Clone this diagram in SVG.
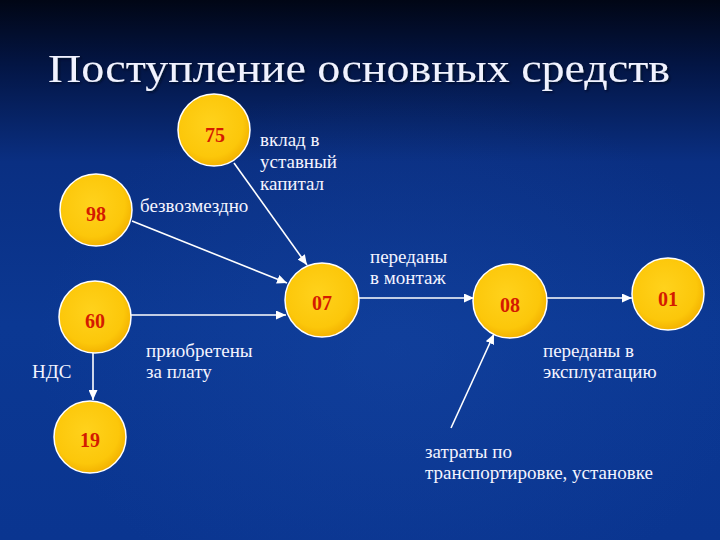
<svg xmlns="http://www.w3.org/2000/svg" width="720" height="540" viewBox="0 0 720 540">
<defs>
<linearGradient id="bg" x1="0" y1="0" x2="0" y2="1">
<stop offset="0" stop-color="#010615"/>
<stop offset="0.12" stop-color="#031544"/>
<stop offset="0.3" stop-color="#0a2f82"/>
<stop offset="0.6" stop-color="#0b3893"/>
<stop offset="1" stop-color="#0a3590"/>
</linearGradient>
<radialGradient id="glow" cx="0.55" cy="0.65" r="0.5">
<stop offset="0" stop-color="#1a4aa8" stop-opacity="0.35"/>
<stop offset="1" stop-color="#1a4aa8" stop-opacity="0"/>
</radialGradient>
<radialGradient id="ball" cx="0.45" cy="0.42" r="0.6">
<stop offset="0" stop-color="#ffd21c"/>
<stop offset="0.75" stop-color="#fcc70a"/>
<stop offset="1" stop-color="#f2b000"/>
</radialGradient>
<marker id="arr" markerUnits="userSpaceOnUse" markerWidth="10" markerHeight="9" refX="10" refY="4.5" orient="auto">
<path d="M0,0 L10,4.5 L0,9 z" fill="#ffffff"/>
</marker>
<filter id="sh" x="-5%" y="-20%" width="110%" height="140%">
<feDropShadow dx="1.5" dy="1.5" stdDeviation="0.8" flood-color="#000820" flood-opacity="0.8"/>
</filter>
</defs>
<style>
.node circle{fill:url(#ball);stroke:#ffffff;stroke-width:1.5}
.num{font-size:20px;font-weight:bold;fill:#d41a00;text-anchor:middle}
.lbl{font-size:19px;fill:#f4f4ff}
.title{font-size:41px;fill:#f0f2ff}
#connectors line{stroke:#ffffff;stroke-width:1.6;marker-end:url(#arr)}
</style>
<rect width="720" height="540" fill="url(#bg)"/>
<rect width="720" height="540" fill="url(#glow)"/>
<text class="title" font-family="'Liberation Serif', 'DejaVu Serif', serif" x="48" y="82" textLength="622" lengthAdjust="spacingAndGlyphs" filter="url(#sh)">Поступление основных средств</text>
<g id="connectors">
<line x1="234" y1="163" x2="307" y2="265"/>
<line x1="132" y1="221" x2="287" y2="283"/>
<line x1="131" y1="315" x2="286" y2="315"/>
<line x1="359" y1="298" x2="474" y2="298"/>
<line x1="547" y1="298" x2="632" y2="298"/>
<line x1="93" y1="353" x2="93" y2="400"/>
<line x1="451" y1="428" x2="494" y2="334"/>
</g>
<g id="node-75" class="node"><circle cx="214" cy="130" r="36"/><text class="num" font-family="'Liberation Serif', 'DejaVu Serif', serif" x="215" y="142">75</text></g>
<g id="node-98" class="node"><circle cx="96" cy="210" r="36"/><text class="num" font-family="'Liberation Serif', 'DejaVu Serif', serif" x="96" y="221">98</text></g>
<g id="node-07" class="node"><circle cx="322" cy="300" r="37"/><text class="num" font-family="'Liberation Serif', 'DejaVu Serif', serif" x="322" y="310">07</text></g>
<g id="node-08" class="node"><circle cx="510" cy="301" r="37"/><text class="num" font-family="'Liberation Serif', 'DejaVu Serif', serif" x="510" y="312">08</text></g>
<g id="node-01" class="node"><circle cx="668" cy="294" r="36"/><text class="num" font-family="'Liberation Serif', 'DejaVu Serif', serif" x="668" y="306">01</text></g>
<g id="node-60" class="node"><circle cx="95" cy="317" r="36"/><text class="num" font-family="'Liberation Serif', 'DejaVu Serif', serif" x="95" y="328">60</text></g>
<g id="node-19" class="node"><circle cx="90" cy="437" r="36"/><text class="num" font-family="'Liberation Serif', 'DejaVu Serif', serif" x="90" y="447">19</text></g>
<g id="labels">
<text class="lbl" font-family="'Liberation Serif', 'DejaVu Serif', serif" x="260" y="146">вклад в</text>
<text class="lbl" font-family="'Liberation Serif', 'DejaVu Serif', serif" x="260" y="168">уставный</text>
<text class="lbl" font-family="'Liberation Serif', 'DejaVu Serif', serif" x="260" y="190">капитал</text>
<text class="lbl" font-family="'Liberation Serif', 'DejaVu Serif', serif" x="140" y="212">безвозмездно</text>
<text class="lbl" font-family="'Liberation Serif', 'DejaVu Serif', serif" x="370" y="263">переданы</text>
<text class="lbl" font-family="'Liberation Serif', 'DejaVu Serif', serif" x="370" y="284">в монтаж</text>
<text class="lbl" font-family="'Liberation Serif', 'DejaVu Serif', serif" x="146" y="357">приобретены</text>
<text class="lbl" font-family="'Liberation Serif', 'DejaVu Serif', serif" x="146" y="378">за плату</text>
<text class="lbl" font-family="'Liberation Serif', 'DejaVu Serif', serif" x="32" y="378">НДС</text>
<text class="lbl" font-family="'Liberation Serif', 'DejaVu Serif', serif" x="543" y="357">переданы в</text>
<text class="lbl" font-family="'Liberation Serif', 'DejaVu Serif', serif" x="543" y="378">эксплуатацию</text>
<text class="lbl" font-family="'Liberation Serif', 'DejaVu Serif', serif" x="425" y="458">затраты по</text>
<text class="lbl" font-family="'Liberation Serif', 'DejaVu Serif', serif" x="425" y="479">транспортировке, установке</text>
</g>
</svg>
